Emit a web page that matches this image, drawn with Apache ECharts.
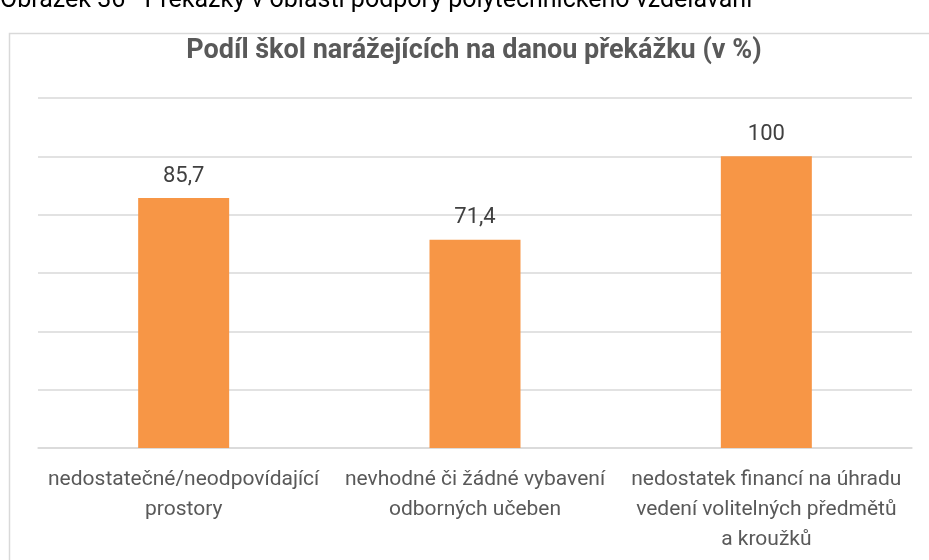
<!DOCTYPE html>
<html><head><meta charset="utf-8">
<script src="https://cdn.jsdelivr.net/npm/echarts@6/dist/echarts.min.js"></script>
<style>html,body{margin:0;padding:0;background:#fff}#c{width:929px;height:560px}</style>
</head><body><div id="c"></div>
<script>
const categories = [
  "nedostatečné/neodpovídající\nprostory",
  "nevhodné či žádné vybavení\nodborných učeben",
  "nedostatek financí na úhradu\nvedení volitelných předmětů\na kroužků"
];
const values = [85.7, 71.4, 100];
const titleText = "Podíl škol narážejících na danou překážku (v %)";
const captionText = "Obrázek 36 - Překážky v oblasti podpory polytechnického vzdělávání";
const FONT = "Roboto, sans-serif";

const chart = echarts.init(document.getElementById('c'));
chart.setOption({
  animation: false,
  backgroundColor: '#fff',
  graphic: [
    { type: 'rect', shape: { x: 9.5, y: 33.5, width: 1000, height: 600 }, style: { fill: 'none', stroke: '#d9d9d9', lineWidth: 1.5 } },
    { type: 'text', x: 0, y: 13, style: { text: captionText, font: "25px " + FONT, fill: '#000', verticalAlign: 'bottom' }, z: 10 },
    { type: 'text', x: 474, y: 51, style: { text: titleText, font: "bold 27px " + FONT, fill: '#595959', align: 'center', verticalAlign: 'middle' }, z: 10 }
  ],
  grid: { left: 38, right: 17, top: 98, bottom: 112, containLabel: false },
  xAxis: {
    type: 'category', data: categories,
    axisLine: { lineStyle: { color: '#d9d9d9', width: 1.5 } },
    axisTick: { show: false },
    axisLabel: { fontFamily: FONT, fontSize: 21, color: '#595959', lineHeight: 30, margin: 17, interval: 0 }
  },
  yAxis: {
    type: 'value', min: 0, max: 120, interval: 20,
    axisLabel: { show: false }, axisLine: { show: false }, axisTick: { show: false },
    splitLine: { lineStyle: { color: '#d9d9d9', width: 1.5 } }
  },
  series: [{
    type: 'bar', data: values, barWidth: 91,
    itemStyle: { color: '#f79646' },
    label: {
      show: true, position: 'top', distance: 11,
      fontFamily: FONT, fontSize: 22, color: '#404040',
      formatter: p => String(p.value).replace('.', ',')
    }
  }]
});
</script></body></html>
